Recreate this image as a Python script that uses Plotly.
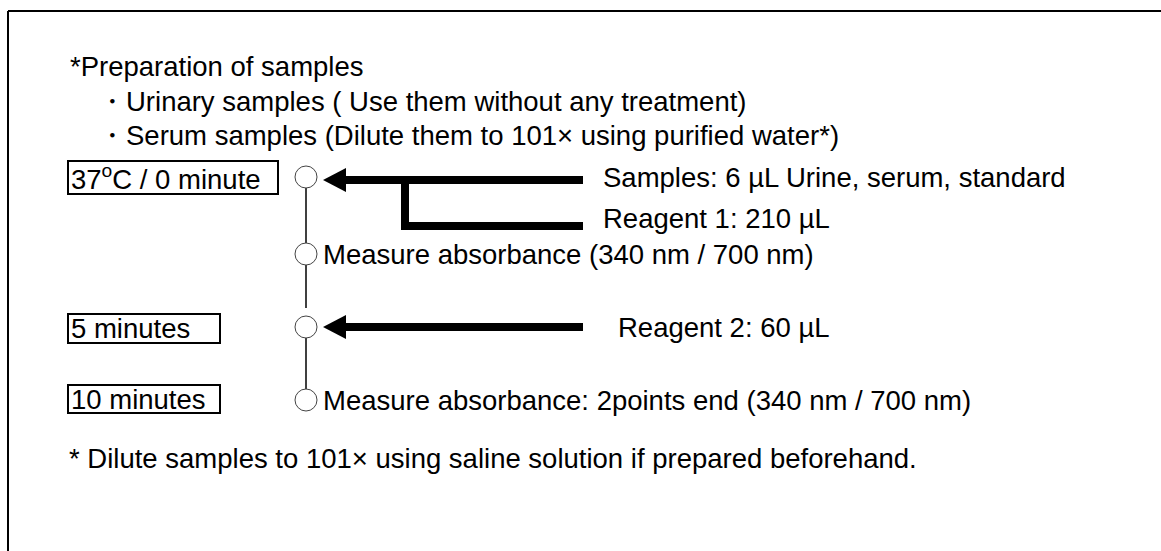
import plotly.graph_objects as go

# ---- content ----
prep_title = "*Preparation of samples"
prep_items = [
    "・Urinary samples ( Use them without any treatment)",
    "・Serum samples (Dilute them to 101× using purified water*)",
]
time_labels = ["37<sup>o</sup>C / 0 minute", "5 minutes", "10 minutes"]
step_labels = [
    "Measure absorbance (340 nm / 700 nm)",
    "Measure absorbance: 2points end (340 nm / 700 nm)",
]
addition_labels = [
    "Samples: 6 µL Urine, serum, standard",
    "Reagent 1: 210 µL",
    "Reagent 2: 60 µL",
]
footnote = "* Dilute samples to 101× using saline solution if prepared beforehand."

# ---- layout geometry (pixel space) ----
W, H = 1161, 551
FONT = "Liberation Sans, Arial, sans-serif"
FS = 27.5
node_x = 306
node_y = [177, 254, 327, 400]
node_r = 11
arrow_tip = 323
arrow_end = 583

fig = go.Figure()
shapes = []
annots = []


def text(x, y, s, size=FS):
    annots.append(dict(x=x, y=y, text=s, showarrow=False, xref="x", yref="y",
                       xanchor="left", yanchor="middle",
                       font=dict(family=FONT, size=size, color="black")))


def rect(x0, y0, x1, y1, fill=None, lw=0, lc="black"):
    shapes.append(dict(type="rect", xref="x", yref="y", x0=x0, y0=y0, x1=x1, y1=y1,
                       fillcolor=fill if fill else "rgba(0,0,0,0)",
                       line=dict(width=lw, color=lc), layer="above"))


def line(x0, y0, x1, y1, lw=1.5, color="black"):
    shapes.append(dict(type="line", xref="x", yref="y", x0=x0, y0=y0, x1=x1, y1=y1,
                       line=dict(width=lw, color=color), layer="above"))


# outer frame (top and left edges)
line(8, 11, W, 11, lw=2)
line(8, 11, 8, H, lw=2)

# preparation text
text(68, 66, prep_title)
text(96, 101, prep_items[0])
text(96, 135, prep_items[1])

# time boxes
boxes = [(68, 161, 278, 194), (68, 314, 220, 343), (68, 385, 220, 413)]
box_text_y = [177, 328, 399]
for (x0, y0, x1, y1), lbl, ty in zip(boxes, time_labels, box_text_y):
    rect(x0, y0, x1, y1, lw=2)
    text(x0 + 1, ty, lbl)

# vertical connectors
line(node_x, node_y[0] + node_r, node_x, node_y[1] - node_r)
line(node_x, node_y[1] + node_r, node_x, 308)
line(node_x, node_y[2] + node_r, node_x, node_y[3] - node_r)

# nodes
for ny in node_y:
    shapes.append(dict(type="circle", xref="x", yref="y",
                       x0=node_x - node_r, x1=node_x + node_r,
                       y0=ny - node_r, y1=ny + node_r,
                       fillcolor="white", line=dict(width=1, color="#444"), layer="above"))


def arrow(y):
    rect(345, y - 4, arrow_end, y + 4, fill="black")
    shapes.append(dict(type="path", xref="x", yref="y",
                       path=f"M {arrow_tip},{y} L 346,{y-12} L 346,{y+12} Z",
                       fillcolor="black", line=dict(width=0), layer="above"))


arrow(180)
# bracket for reagent 1
rect(401, 180, 409, 230, fill="black")
rect(401, 222, arrow_end, 230, fill="black")
arrow(327)

# addition labels
text(601, 177, addition_labels[0])
text(601, 218, addition_labels[1])
text(616, 327, addition_labels[2])

# step labels
text(321, 254, step_labels[0])
text(321, 400, step_labels[1])

# footnote
text(67, 458, footnote)

fig.update_layout(
    width=W, height=H, margin=dict(l=0, r=0, t=0, b=0),
    paper_bgcolor="white", plot_bgcolor="white",
    xaxis=dict(range=[0, W], visible=False, fixedrange=True),
    yaxis=dict(range=[H, 0], visible=False, fixedrange=True),
    shapes=shapes, annotations=annots, showlegend=False,
)
fig.write_html("out.html", config={"displayModeBar": False},
               post_script="document.body.style.margin='0';")
